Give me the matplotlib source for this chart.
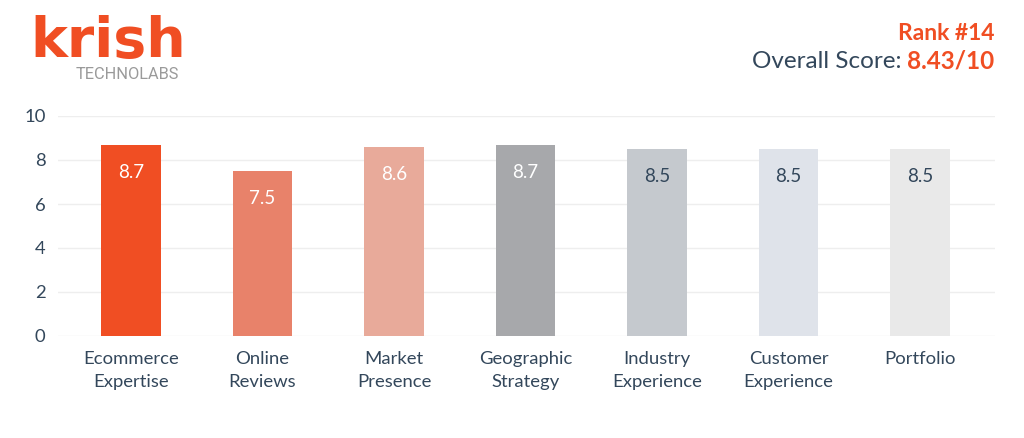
import matplotlib
matplotlib.use("Agg")
import matplotlib.pyplot as plt

categories = ["Ecommerce\nExpertise", "Online\nReviews", "Market\nPresence", "Geographic\nStrategy",
              "Industry\nExperience", "Customer\nExperience", "Portfolio"]
values = [8.7, 7.5, 8.6, 8.7, 8.5, 8.5, 8.5]
value_labels = ["8.7", "7.5", "8.6", "8.7", "8.5", "8.5", "8.5"]
yticks = [0, 2, 4, 6, 8, 10]
bar_colors = ["#F04E23", "#E8826A", "#E8AA9A", "#A7A8AB", "#C5C9CE", "#DFE3EA", "#E9E9E9"]
label_colors = ["white", "white", "white", "white", "#33475B", "#33475B", "#33475B"]
rank_text = "Rank #14"
score_prefix = "Overall Score:"
score_text = "8.43/10"

DARK = "#33475B"
ORANGE = "#F04E23"

plt.rcParams['font.family'] = ['Lato', 'DejaVu Sans']

fig = plt.figure(figsize=(10.24, 4.38), dpi=100)
ax = fig.add_axes([58/1024, (438-336)/438, (995-58)/1024, (336-116)/438])

x = list(range(len(categories)))
ax.bar(x, values, width=0.45, color=bar_colors, zorder=2)
for xi, v, lab, c in zip(x, values, value_labels, label_colors):
    ax.annotate(lab, (xi, v), xytext=(0, -28), textcoords="offset pixels",
                ha="center", va="center", color=c, fontsize=13.5, zorder=3)

ax.set_xlim(-0.555, 6.57)
ax.set_ylim(0, 10)
ax.set_yticks(yticks)
ax.set_xticks(x)
ax.set_xticklabels(categories, fontsize=13.3, color=DARK, linespacing=1.5)
ax.tick_params(axis='y', labelsize=13.3, labelcolor=DARK, length=0, pad=9)
ax.tick_params(axis='x', length=0, pad=11)
ax.grid(axis='y', color="#EEEEEE", linewidth=1, zorder=0)
for s in ax.spines.values():
    s.set_visible(False)

# Logo
fig.text(30/1024, 1 - 57/438, "krish", fontsize=40, fontweight="bold", color=ORANGE,
         family=["DejaVu Sans"], ha="left", va="baseline")
fig.text(179/1024, 1 - 79/438, "TECHNOLABS", fontsize=11.8, color="#9A9A9A",
         family=["Roboto", "DejaVu Sans"], ha="right", va="baseline")

# Rank & score
fig.text(994/1024, 1 - 33/438, rank_text, fontsize=16.5, fontweight="bold", color=ORANGE,
         ha="right", va="center")
t2 = fig.text(994/1024, 1 - 61/438, score_text, fontsize=17.5, fontweight="bold", color=ORANGE,
              ha="right", va="center")
fig.canvas.draw()
bb = t2.get_window_extent()
fig.text(bb.x0/1024 - 0.005, 1 - 61/438, score_prefix, fontsize=17.5, color=DARK,
         ha="right", va="center")

fig.savefig("out.png", dpi=100)
